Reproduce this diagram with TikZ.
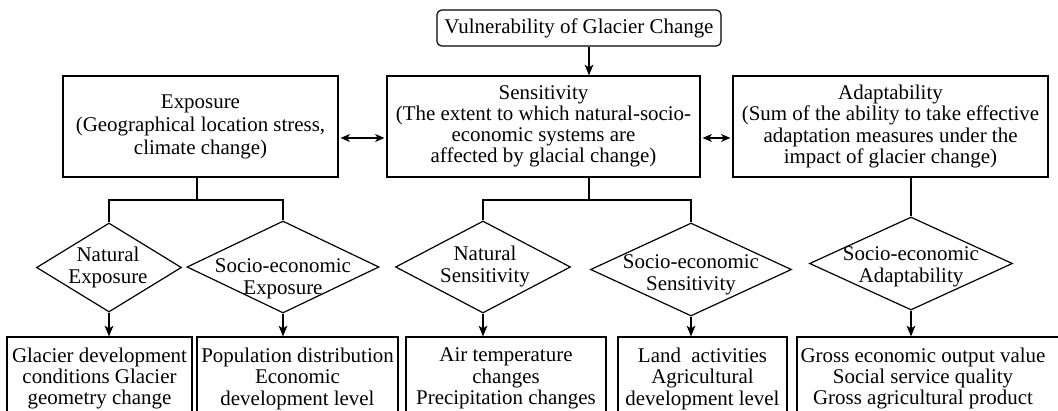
\documentclass[tikz,border=0pt]{standalone}
\usepackage{fontspec}
\setmainfont{Liberation Serif}
\usetikzlibrary{shapes.geometric,arrows.meta}
\begin{document}
\begin{tikzpicture}[x=0.75pt,y=-0.75pt,
  every node/.style={font=\fontsize{15.7}{16.5}\selectfont, inner sep=0pt, align=center},
  box/.style={draw, rectangle, line width=0.9pt},
  bigbox/.style={box, minimum height=75.75pt, font=\fontsize{15.7}{15.9}\selectfont},
  lowbox/.style={box, minimum height=62.25pt, font=\fontsize{15.7}{16.1}\selectfont},
  dia/.style={draw, diamond, line width=0.9pt, inner sep=0pt},
  dtxt/.style={font=\fontsize{15.7}{16.5}\selectfont},
  conn/.style={line width=0.9pt},
  arr/.style={conn, -{Stealth[length=8pt,width=6.5pt,inset=2pt]}},
  darr/.style={conn, {Stealth[length=7pt,width=6pt,inset=2pt]}-{Stealth[length=7pt,width=6pt,inset=2pt]}, shorten <=1.5pt, shorten >=1.5pt}
]
\useasboundingbox (0,0) rectangle (1058,411);

% top
\node[box, rounded corners=3.5pt, minimum width=213pt, minimum height=27pt] (top) at (579,28) {Vulnerability of Glacier Change};

% level 1
\node[bigbox, minimum width=206.25pt, font=\fontsize{15.7}{17.3}\selectfont] (expo) at (200.5,126.5)
  {Exposure\\(Geographical location stress,\\climate change)};
\node[bigbox, minimum width=234.75pt] (sens) at (543.5,126.5)
  {Sensitivity\\(The extent to which natural-socio-\\economic systems are\\affected by glacial change)};
\node[bigbox, minimum width=236.25pt] (adap) at (890.5,126.5)
  {Adaptability\\(Sum of the ability to take effective\\adaptation measures under the\\impact of glacier change)};

% junctions
\coordinate (j1) at (197,200);
\coordinate (j2) at (589,200);
\coordinate (j3) at (911,200);

% diamonds
\node[dia, minimum width=108.75pt, minimum height=66.75pt] (d1) at (109,267.5) {};
\node[dia, minimum width=144pt, minimum height=69pt] (d2) at (283,267) {};
\node[dia, minimum width=131.25pt, minimum height=69pt] (d3) at (483,267) {};
\node[dia, minimum width=150.75pt, minimum height=69.75pt] (d4) at (691,269.5) {};
\node[dia, minimum width=152.25pt, minimum height=69.75pt] (d5) at (911,263.5) {};

\node[dtxt] (t1) at (108,267.5) {Natural\\Exposure};
\node[dtxt] (t2) at (283,278.5) {Socio-economic\\Exposure};
\node[dtxt] (t3) at (485,266) {Natural\\Sensitivity};
\node[dtxt] (t4) at (691,274.5) {Socio-economic\\Sensitivity};
\node[dtxt] (t5) at (911,267) {Socio-economic\\Adaptability};

% bottom boxes
\node[lowbox, minimum width=138.75pt] (b1) at (99.5,378.5)
  {Glacier development\\conditions Glacier\\geometry change};
\node[lowbox, minimum width=150.75pt] (b2) at (297.5,378.5)
  {Population distribution\\Economic\\development level};
\node[lowbox, minimum width=150pt] (b3) at (506,378.5)
  {Air temperature\\changes\\Precipitation changes};
\node[lowbox, minimum width=126.75pt] (b4) at (702.5,378.5)
  {Land\ \ activities\\Agricultural\\development level};
\node[lowbox, minimum width=201pt] (b5) at (931,378.5) {};
\node[font=\fontsize{15.7}{16.1}\selectfont] (t6) at (923,378.5)
  {Gross economic output value\\Social service quality\\Gross agricultural product};

% connectors
\draw[arr] (top.south -| j2) -- (sens.north -| j2);
\draw[darr] ([yshift=-8.6pt]expo.east) -- ([yshift=-8.6pt]sens.west);
\draw[darr] ([yshift=-8.6pt]sens.east) -- ([yshift=-8.6pt]adap.west);

\draw[conn] (expo.south -| j1) -- (j1);
\draw[conn] (d1.north) -- (d1.north |- j1) -- (d2.north |- j1) -- (d2.north);
\draw[conn] (sens.south -| j2) -- (j2);
\draw[conn] (d3.north) -- (d3.north |- j2) -- (d4.north |- j2) -- (d4.north);
\draw[conn] (adap.south -| j3) -- (d5.north);

\draw[arr] (d1.south) -- (d1.south |- b1.north);
\draw[arr] (d2.south) -- (d2.south |- b2.north);
\draw[arr] (d3.south) -- (d3.south |- b3.north);
\draw[arr] (d4.south) -- (d4.south |- b4.north);
\draw[arr] (d5.south) -- (d5.south |- b5.north);
\end{tikzpicture}
\end{document}
